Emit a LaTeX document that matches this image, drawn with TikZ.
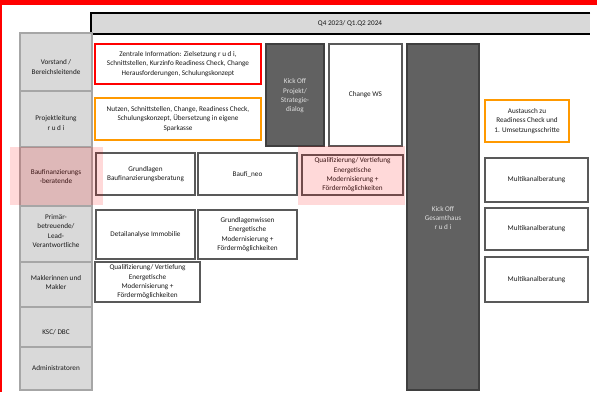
\documentclass[tikz,border=0pt]{standalone}
\usepackage{fontspec}
\setmainfont{Carlito}
\definecolor{cellgray}{HTML}{D9D9D9}
\definecolor{cellline}{HTML}{A6A6A6}
\definecolor{boxline}{HTML}{595959}
\definecolor{darkfill}{HTML}{616161}
\definecolor{darkline}{HTML}{3F3F3F}
\definecolor{orangeline}{HTML}{FF9900}
\definecolor{txtgray}{HTML}{1A1A1A}
\begin{document}
\begin{tikzpicture}[x=1pt,y=-1pt,
  every node/.style={font=\fontsize{7.2}{9.3}\selectfont, text=txtgray, align=center, inner sep=0pt},
  cell/.style={draw=cellline, fill=cellgray, line width=2.2pt},
  wbox/.style={draw=boxline, fill=white, line width=2.5pt},
  dbox/.style={draw=darkline, fill=darkfill, line width=2.2pt},
  rbox/.style={draw=red, fill=white, line width=2.5pt},
  obox/.style={draw=orangeline, fill=white, line width=2.5pt},
  pinkover/.style={fill=red, fill opacity=0.15, draw=none},
  lighttext/.style={text=white!88!black}
]
\useasboundingbox (0,0) rectangle (597,392);
\fill[white] (0,0) rectangle (597,392);
% red frame
\fill[red] (0,0) rectangle (597,5);
\fill[red] (0,0) rectangle (2.2,392);
% header
\fill[cellgray] (91,13) rectangle (590,34);
\draw[black, line width=2.2pt] (590,13) -- (91,13) -- (91,34) -- (590,34);
\node (hdr) at (350,23.5) {Q4 2023/ Q1.Q2 2024};
% left column
\node[cell, minimum width=72pt, minimum height=58pt] (c1) at (56,62) {};
\node[cell, minimum width=72pt, minimum height=56pt] (c2) at (56,119) {};
\node[cell, minimum width=72pt, minimum height=59pt] (c3) at (56,176.5) {};
\node[cell, minimum width=72pt, minimum height=56pt] (c4) at (56,234) {};
\node[cell, minimum width=72pt, minimum height=45pt] (c5) at (56,284.5) {};
\node[cell, minimum width=72pt, minimum height=40pt] (c6) at (56,327) {};
\node[cell, minimum width=72pt, minimum height=43pt] (c7) at (56,368.5) {};
\node (t1) at (56,67) {Vorstand /\\Bereichsleitende};
\node (t2) at (56,123) {Projektleitung\\r u d i};
\node (t3) at (56,176.5) {Baufinanzierungs\\-beratende};
\node (t4) at (56,231) {Primär-\\betreuende/\\Lead-\\Verantwortliche};
\node (t5) at (56,282.5) {Maklerinnen und\\Makler};
\node (t6) at (56,332) {KSC/ DBC};
\node (t7) at (56,368) {Administratoren};
% content boxes
\node[rbox, minimum width=166pt, minimum height=40pt] (zi) at (178,64) {Zentrale Information: Zielsetzung r u d i,\\Schnittstellen, Kurzinfo Readiness Check, Change\\Herausforderungen, Schulungskonzept};
\node[obox, minimum width=166pt, minimum height=42pt] (nu) at (178,119) {Nutzen, Schnittstellen, Change, Readiness Check,\\Schulungskonzept, Übersetzung in eigene\\Sparkasse};
\node[dbox, minimum width=58pt, minimum height=102pt] (kp) at (295,95) {};
\node[lighttext] (kpt) at (295,96) {Kick Off\\Projekt/\\Strategie-\\dialog};
\node[wbox, minimum width=73pt, minimum height=102pt] (cw) at (365.5,95) {Change WS};
\node[dbox, minimum width=72pt, minimum height=346pt] (kg) at (443,217) {};
\node[lighttext] (kgt) at (443,218) {Kick Off\\Gesamthaus\\r u d i};
\node[obox, minimum width=84pt, minimum height=42pt] (au) at (527,121) {Austausch zu\\Readiness Check und\\1. Umsetzungsschritte};
\node[wbox, minimum width=99pt, minimum height=42pt] (gb) at (145.5,174) {Grundlagen\\Baufinanzierungsberatung};
\node[wbox, minimum width=99pt, minimum height=42pt] (bn) at (247.5,174) {Baufi\_neo};
\node[wbox, minimum width=101pt, minimum height=40pt] (q1) at (352.5,175) {Qualifizierung/ Vertiefung\\Energetische\\Modernisierung +\\Fördermöglichkeiten};
\node[wbox, minimum width=103pt, minimum height=44pt] (m1) at (536.5,180) {Multikanalberatung};
\node[wbox, minimum width=99pt, minimum height=49pt] (da) at (145.5,234.5) {Detailanalyse Immobilie};
\node[wbox, minimum width=99pt, minimum height=49pt] (gw) at (247.5,234.5) {Grundlagenwissen\\Energetische\\Modernisierung +\\Fördermöglichkeiten};
\node[wbox, minimum width=103pt, minimum height=42pt] (m2) at (536.5,229) {Multikanalberatung};
\node[wbox, minimum width=105pt, minimum height=40pt] (q2) at (147.5,282) {Qualifizierung/ Vertiefung\\Energetische\\Modernisierung +\\Fördermöglichkeiten};
\node[wbox, minimum width=103pt, minimum height=45pt] (m3) at (536.5,279.5) {Multikanalberatung};
% pink highlights
\fill[pinkover] (10,147) rectangle (103,205);
\fill[pinkover] (298,146) rectangle (405,205);
\end{tikzpicture}
\end{document}
